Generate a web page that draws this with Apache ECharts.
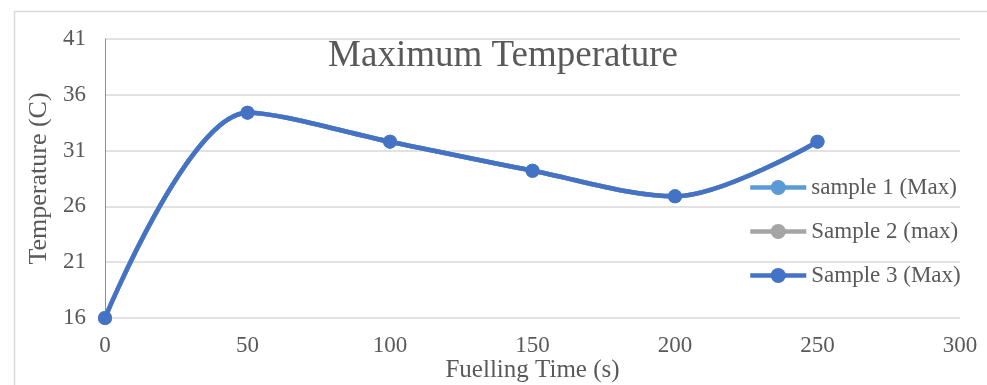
<!DOCTYPE html>
<html>
<head>
<meta charset="utf-8">
<script src="https://cdn.jsdelivr.net/npm/echarts@6/dist/echarts.min.js"></script>
<style>html,body{margin:0;padding:0;background:#fff;}#c{width:987px;height:385px;}</style>
</head>
<body>
<div id="c"></div>
<script>
var xValues = [0, 50, 100, 150, 200, 250];
var sample1 = [16, 34.4, 31.8, 29.2, 26.9, 31.8];
var sample2 = [16, 34.4, 31.8, 29.2, 26.9, 31.8];
var sample3 = [16, 34.4, 31.8, 29.2, 26.9, 31.8];
var seriesNames = ['sample 1 (Max)', 'Sample 2 (max)', 'Sample 3 (Max)'];
var seriesColors = ['#5B9BD5', '#A5A5A5', '#4472C4'];
var FONT = '"Liberation Serif", "Times New Roman", serif';

function pairs(vals) { return xValues.map(function (x, i) { return [x, vals[i]]; }); }
var allVals = [sample1, sample2, sample3];

var chart = echarts.init(document.getElementById('c'), null, { renderer: 'canvas' });
chart.setOption({
  animation: false,
  backgroundColor: '#fff',
  graphic: [{
    type: 'rect', left: 12, top: 9, shape: { x: 0, y: 0, width: 1000, height: 400 },
    style: { fill: 'none', stroke: '#D9D9D9', lineWidth: 1.5 }, silent: true, z: -1
  }],
  title: {
    text: 'Maximum Temperature', left: 498, top: 33, textAlign: 'center',
    textStyle: { fontFamily: FONT, fontSize: 37, fontWeight: 'normal', color: '#595959' }
  },
  legend: {
    orient: 'vertical', left: 743, top: 171, itemGap: 21,
    itemWidth: 56, itemHeight: 19,
    lineStyle: { width: 4.5 },
    textStyle: { fontFamily: FONT, fontSize: 23, color: '#595959' },
    data: seriesNames
  },
  grid: { left: 105, right: 27, top: 39, bottom: 67, containLabel: false, outerBoundsMode: 'none' },
  xAxis: {
    type: 'value', min: 0, max: 300, interval: 50,
    name: 'Fuelling Time (s)', nameLocation: 'middle', nameGap: 40, nameMoveOverlap: false,
    nameTextStyle: { fontFamily: FONT, fontSize: 25, color: '#595959' },
    axisLine: { show: false }, axisTick: { show: false },
    axisLabel: { fontFamily: FONT, fontSize: 23, color: '#595959', margin: 16 },
    splitLine: { show: false }
  },
  yAxis: {
    type: 'value', min: 16, max: 41, interval: 5,
    name: 'Temperature (C)', nameLocation: 'middle', nameGap: 53, nameRotate: 90, nameMoveOverlap: false,
    nameTextStyle: { fontFamily: FONT, fontSize: 26, color: '#595959' },
    axisLine: { show: true, lineStyle: { color: '#5B9BD5', width: 1 } },
    axisTick: { show: false },
    axisLabel: { fontFamily: FONT, fontSize: 23, color: '#595959', margin: 19 },
    splitLine: { show: true, lineStyle: { color: '#D9D9D9', width: 1.5 } }
  },
  series: allVals.map(function (vals, i) {
    return {
      name: seriesNames[i], type: 'line', data: pairs(vals), smooth: 0.32,
      symbol: 'circle', symbolSize: 14,
      lineStyle: { color: seriesColors[i], width: 4.5 },
      itemStyle: { color: seriesColors[i] },
      z: 2 + i
    };
  })
});
</script>
</body>
</html>
